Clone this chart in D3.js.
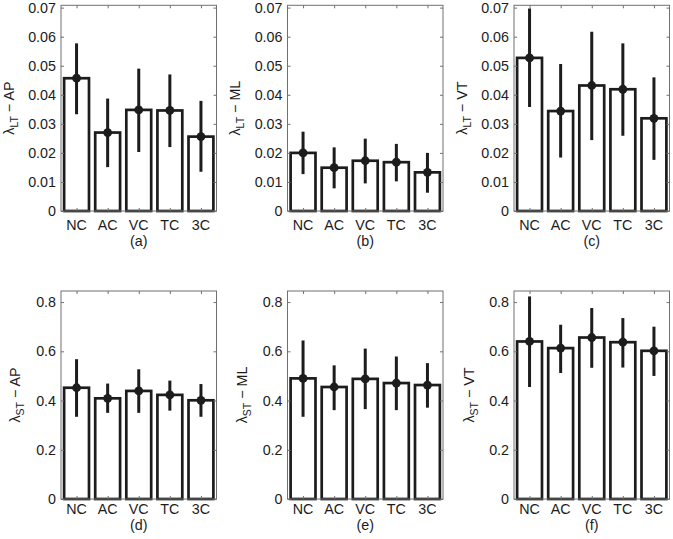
<!DOCTYPE html>
<html>
<head>
<meta charset="utf-8">
<script src="https://cdn.jsdelivr.net/npm/d3@7"></script>
<style>
  body { margin: 0; background: #fff; }
  svg { display: block; font-family: "Liberation Sans", Arial, Helvetica, sans-serif; }
</style>
</head>
<body>
<svg id="chart" width="673" height="539"></svg>
<script>
// ---- data ----
const categories = ["NC", "AC", "VC", "TC", "3C"];
const panelTags = ["(a)", "(b)", "(c)", "(d)", "(e)", "(f)"];
const ySubscripts = ["LT", "LT", "LT", "ST", "ST", "ST"];
const yDirections = ["AP", "ML", "VT", "AP", "ML", "VT"];
const ticksLT = [0, 0.01, 0.02, 0.03, 0.04, 0.05, 0.06, 0.07];
const ticksST = [0, 0.2, 0.4, 0.6, 0.8];

// means, lower and upper error-bar ends
const meanLT_AP = [0.0457, 0.0270, 0.0348, 0.0346, 0.0256];
const lowLT_AP  = [0.0333, 0.0151, 0.0203, 0.0220, 0.0135];
const highLT_AP = [0.0577, 0.0387, 0.0490, 0.0470, 0.0379];

const meanLT_ML = [0.0200, 0.0149, 0.0173, 0.0168, 0.0133];
const lowLT_ML  = [0.0127, 0.0078, 0.0095, 0.0102, 0.0063];
const highLT_ML = [0.0273, 0.0219, 0.0249, 0.0231, 0.0200];

const meanLT_VT = [0.0527, 0.0344, 0.0432, 0.0419, 0.0319];
const lowLT_VT  = [0.0358, 0.0184, 0.0244, 0.0259, 0.0176];
const highLT_VT = [0.0697, 0.0506, 0.0617, 0.0577, 0.0460];

const meanST_AP = [0.452, 0.409, 0.439, 0.423, 0.401];
const lowST_AP  = [0.334, 0.350, 0.350, 0.359, 0.334];
const highST_AP = [0.568, 0.469, 0.527, 0.481, 0.467];

const meanST_ML = [0.490, 0.455, 0.488, 0.471, 0.463];
const lowST_ML  = [0.334, 0.361, 0.365, 0.361, 0.371];
const highST_ML = [0.644, 0.543, 0.611, 0.579, 0.552];

const meanST_VT = [0.640, 0.613, 0.656, 0.637, 0.602];
const lowST_VT  = [0.455, 0.512, 0.533, 0.534, 0.500];
const highST_VT = [0.823, 0.708, 0.776, 0.735, 0.700];

const domainMaxLT = 0.0708;
const domainMaxST = 0.845;

// ---- layout ----
const panels = [
  { mean: meanLT_AP, low: lowLT_AP, high: highLT_AP, ticks: ticksLT, max: domainMaxLT, row: 0, col: 0 },
  { mean: meanLT_ML, low: lowLT_ML, high: highLT_ML, ticks: ticksLT, max: domainMaxLT, row: 0, col: 1 },
  { mean: meanLT_VT, low: lowLT_VT, high: highLT_VT, ticks: ticksLT, max: domainMaxLT, row: 0, col: 2 },
  { mean: meanST_AP, low: lowST_AP, high: highST_AP, ticks: ticksST, max: domainMaxST, row: 1, col: 0 },
  { mean: meanST_ML, low: lowST_ML, high: highST_ML, ticks: ticksST, max: domainMaxST, row: 1, col: 1 },
  { mean: meanST_VT, low: lowST_VT, high: highST_VT, ticks: ticksST, max: domainMaxST, row: 1, col: 2 }
];
const colLeft = [61, 287.5, 514];
const plotW = 155.5;
const rowTop = [5.3, 291];
const rowBottom = [211, 499];
const tickLabelGap = [18.5, 14.5];
const tagGap = [34.5, 31];
const ylabelX = [[8.5, 235, 462], [14.5, 242, 469]];

const svg = d3.select("#chart");
const fontSize = 14.3;
const ink = "#1c1c1c";
const boxColor = "#707070";

panels.forEach((p, i) => {
  const x0 = colLeft[p.col], y0 = rowTop[p.row], y1 = rowBottom[p.row];
  const g = svg.append("g");
  const x = d3.scaleLinear().domain([0.5, 5.5]).range([x0, x0 + plotW]);
  const y = d3.scaleLinear().domain([0, p.max]).range([y1, y0]);
  const fmt = v => (v === 0 ? "0" : String(v));

  // bars
  const barW = x(1.4) - x(0.6);
  g.selectAll("rect.bar").data(p.mean).join("rect")
    .attr("class", "bar")
    .attr("x", (d, k) => x(k + 1) - barW / 2)
    .attr("y", d => y(d))
    .attr("width", barW)
    .attr("height", d => y(0) - y(d))
    .attr("fill", "#fff")
    .attr("stroke", ink)
    .attr("stroke-width", 2.7);

  // box
  g.append("rect")
    .attr("x", x0).attr("y", y0)
    .attr("width", plotW).attr("height", y1 - y0)
    .attr("fill", "none").attr("stroke", boxColor).attr("stroke-width", 1);

  // left axis (ticks inward, labels)
  const left = g.append("g").attr("transform", `translate(${x0},0)`)
    .call(d3.axisLeft(y).tickValues(p.ticks).tickFormat(fmt).tickSizeInner(-3).tickSizeOuter(0).tickPadding(5));
  left.attr("font-family", null).attr("font-size", null);
  left.select(".domain").remove();
  left.selectAll(".tick line").attr("stroke", boxColor);
  left.selectAll(".tick text").attr("font-size", fontSize).attr("fill", ink);

  // right axis ticks
  const right = g.append("g").attr("transform", `translate(${x0 + plotW},0)`)
    .call(d3.axisRight(y).tickValues(p.ticks).tickFormat("").tickSizeInner(-3).tickSizeOuter(0));
  right.select(".domain").remove();
  right.selectAll(".tick line").attr("stroke", boxColor);

  // bottom/top ticks
  const bottom = g.append("g").attr("transform", `translate(0,${y1})`)
    .call(d3.axisBottom(x).tickValues([1, 2, 3, 4, 5]).tickFormat("").tickSizeInner(-3).tickSizeOuter(0));
  bottom.select(".domain").remove();
  bottom.selectAll(".tick line").attr("stroke", boxColor);
  const top = g.append("g").attr("transform", `translate(0,${y0})`)
    .call(d3.axisTop(x).tickValues([1, 2, 3, 4, 5]).tickFormat("").tickSizeInner(-3).tickSizeOuter(0));
  top.select(".domain").remove();
  top.selectAll(".tick line").attr("stroke", boxColor);

  // category labels
  g.selectAll("text.cat").data(categories).join("text")
    .attr("class", "cat")
    .attr("x", (d, k) => x(k + 1))
    .attr("y", y1 + tickLabelGap[p.row])
    .attr("text-anchor", "middle")
    .attr("font-size", fontSize)
    .attr("fill", ink)
    .text(d => d);

  // panel tag
  g.append("text")
    .attr("x", x0 + plotW / 2)
    .attr("y", y1 + tagGap[p.row])
    .attr("text-anchor", "middle")
    .attr("font-size", fontSize)
    .attr("fill", ink)
    .text(panelTags[i]);

  // error bars
  g.selectAll("line.err").data(p.mean).join("line")
    .attr("class", "err")
    .attr("x1", (d, k) => x(k + 1)).attr("x2", (d, k) => x(k + 1))
    .attr("y1", (d, k) => y(p.low[k])).attr("y2", (d, k) => y(p.high[k]))
    .attr("stroke", ink).attr("stroke-width", 3);
  g.selectAll("circle.pt").data(p.mean).join("circle")
    .attr("class", "pt")
    .attr("cx", (d, k) => x(k + 1)).attr("cy", d => y(d))
    .attr("r", 4.4).attr("fill", ink);

  // y label
  const lx = ylabelX[p.row][p.col], ly = (y0 + y1) / 2;
  const t = g.append("text")
    .attr("transform", `translate(${lx},${ly}) rotate(-90)`)
    .attr("text-anchor", "middle")
    .attr("dy", "0.35em")
    .attr("font-size", fontSize)
    .attr("fill", ink);
  t.append("tspan").text("λ");
  t.append("tspan").attr("font-size", 10.5).attr("dy", 4).text(ySubscripts[i]);
  t.append("tspan").attr("dy", -4).text(" − " + yDirections[i]);
});
</script>
</body>
</html>
